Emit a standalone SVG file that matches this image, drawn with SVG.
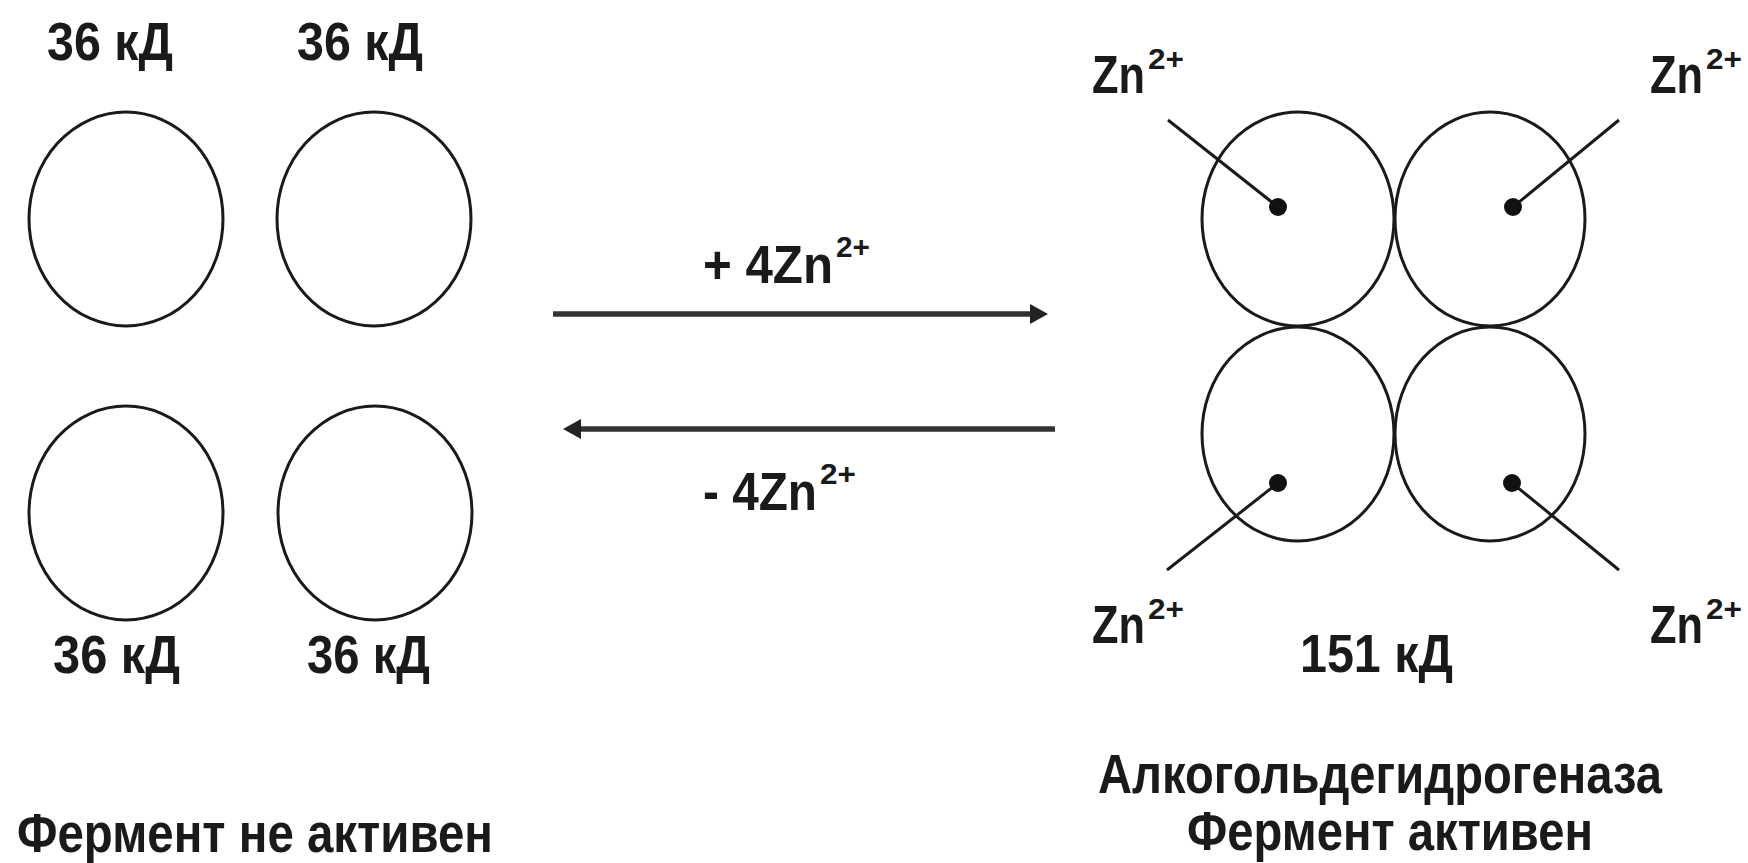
<svg xmlns="http://www.w3.org/2000/svg" width="1748" height="863" viewBox="0 0 1748 863">
<style>
.t{font-family:"Liberation Sans",Arial,sans-serif;font-size:54px;font-weight:bold;fill:#1a1a1a}
.big{font-size:56px}
.sup{font-size:30px}
.c{fill:none;stroke:#1a1a1a;stroke-width:3}
.ld{stroke:#1a1a1a;stroke-width:3}
.dot{fill:#111}
.arr{stroke:#333;stroke-width:5.5;fill:none}
</style>
<defs>
<marker id="ah" markerUnits="userSpaceOnUse" markerWidth="18" markerHeight="24" viewBox="0 0 18 24" refX="10" refY="12" orient="auto">
<path d="M0,2 L18,12 L0,22 Z" fill="#222"/>
</marker>
</defs>
<rect width="1748" height="863" fill="#fff"/>

<g id="monomer-tl">
<ellipse class="c" cx="126" cy="219" rx="97" ry="107"/>
<text class="t" x="47" y="60" textLength="126" lengthAdjust="spacingAndGlyphs">36 кД</text>
</g>
<g id="monomer-tr">
<ellipse class="c" cx="374" cy="219" rx="97" ry="107"/>
<text class="t" x="297" y="60" textLength="126" lengthAdjust="spacingAndGlyphs">36 кД</text>
</g>
<g id="monomer-bl">
<ellipse class="c" cx="126" cy="513" rx="97" ry="107"/>
<text class="t" x="53" y="673" textLength="127" lengthAdjust="spacingAndGlyphs">36 кД</text>
</g>
<g id="monomer-br">
<ellipse class="c" cx="375" cy="513" rx="97" ry="107"/>
<text class="t" x="307" y="673" textLength="123" lengthAdjust="spacingAndGlyphs">36 кД</text>
</g>
<g id="label-inactive">
<text class="t big" x="17" y="852" textLength="476" lengthAdjust="spacingAndGlyphs">Фермент не активен</text>
</g>

<g id="connectors">
<line class="arr" x1="553" y1="314" x2="1040" y2="314" marker-end="url(#ah)"/>
<line class="arr" x1="1055" y1="429" x2="571" y2="429" marker-end="url(#ah)"/>
<text class="t" x="703" y="283" textLength="130" lengthAdjust="spacingAndGlyphs">+ 4Zn</text>
<text class="t sup" x="836" y="257" textLength="34" lengthAdjust="spacingAndGlyphs">2+</text>
<text class="t" x="703" y="510" textLength="114" lengthAdjust="spacingAndGlyphs">- 4Zn</text>
<text class="t sup" x="820" y="484" textLength="36" lengthAdjust="spacingAndGlyphs">2+</text>
</g>

<g id="tetramer">
<g id="sub-tl">
<ellipse class="c" cx="1298" cy="219" rx="96" ry="107"/>
<line class="ld" x1="1168" y1="120" x2="1278" y2="207"/>
<circle class="dot" cx="1278" cy="207" r="9"/>
<text class="t" x="1092" y="93" textLength="53" lengthAdjust="spacingAndGlyphs">Zn</text>
<text class="t sup" x="1148" y="69" textLength="36" lengthAdjust="spacingAndGlyphs">2+</text>
</g>
<g id="sub-tr">
<ellipse class="c" cx="1490" cy="219" rx="95" ry="107"/>
<line class="ld" x1="1619" y1="120" x2="1513" y2="207"/>
<circle class="dot" cx="1513" cy="207" r="9"/>
<text class="t" x="1650" y="93" textLength="53" lengthAdjust="spacingAndGlyphs">Zn</text>
<text class="t sup" x="1706" y="69" textLength="36" lengthAdjust="spacingAndGlyphs">2+</text>
</g>
<g id="sub-bl">
<ellipse class="c" cx="1298" cy="434" rx="96" ry="107"/>
<line class="ld" x1="1167" y1="570" x2="1278" y2="483"/>
<circle class="dot" cx="1278" cy="483" r="9"/>
<text class="t" x="1092" y="643" textLength="53" lengthAdjust="spacingAndGlyphs">Zn</text>
<text class="t sup" x="1148" y="619" textLength="36" lengthAdjust="spacingAndGlyphs">2+</text>
</g>
<g id="sub-br">
<ellipse class="c" cx="1490" cy="434" rx="95" ry="107"/>
<line class="ld" x1="1619" y1="570" x2="1512" y2="483"/>
<circle class="dot" cx="1512" cy="483" r="9"/>
<text class="t" x="1650" y="643" textLength="53" lengthAdjust="spacingAndGlyphs">Zn</text>
<text class="t sup" x="1706" y="619" textLength="36" lengthAdjust="spacingAndGlyphs">2+</text>
</g>
<text class="t" x="1300" y="672" textLength="153" lengthAdjust="spacingAndGlyphs">151 кД</text>
</g>
<g id="label-active">
<text class="t big" x="1098" y="793" textLength="564" lengthAdjust="spacingAndGlyphs">Алкогольдегидрогеназа</text>
<text class="t big" x="1187" y="850" textLength="406" lengthAdjust="spacingAndGlyphs">Фермент активен</text>
</g>
</svg>
